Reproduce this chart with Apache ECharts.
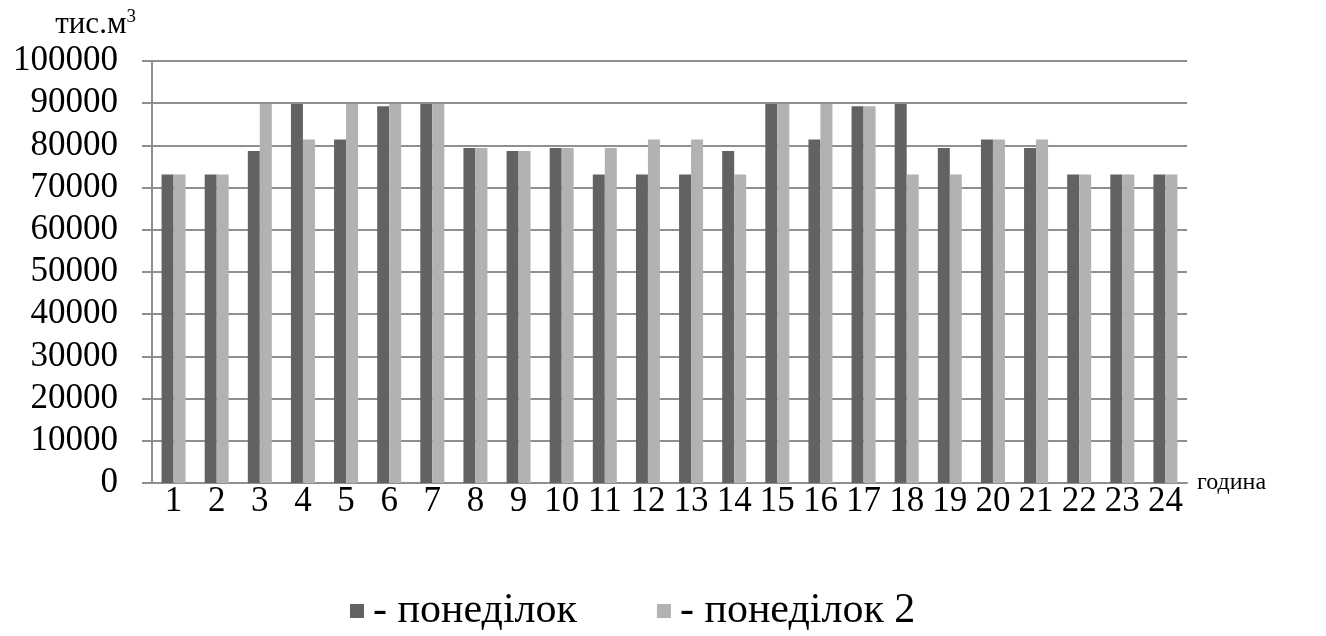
<!DOCTYPE html>
<html>
<head>
<meta charset="utf-8">
<script src="https://cdn.jsdelivr.net/npm/echarts@6/dist/echarts.min.js"></script>
<style>html,body{margin:0;padding:0;background:#fff}#c{width:1326px;height:636px}</style>
</head>
<body>
<div id="c"></div>
<script>
const hours = ['1','2','3','4','5','6','7','8','9','10','11','12','13','14','15','16','17','18','19','20','21','22','23','24'];
const monday = [73100,73100,78700,89800,81400,89300,89800,79400,78700,79400,73100,73100,73100,78700,89800,81400,89300,89800,79400,81400,79400,73100,73100,73100];
const monday2 = [73100,73100,89800,81400,89800,89800,89800,79400,78700,79400,79400,81400,81400,73100,89800,89800,89300,73100,73100,81400,81400,73100,73100,73100];
const seriesNames = ['понеділок','понеділок 2'];
const yTicks = [0,100000,10000];

const FONT = '"Liberation Serif","Times New Roman",serif';
const chart = echarts.init(document.getElementById('c'), null, {renderer:'canvas'});
chart.setOption({
  animation:false,
  backgroundColor:'#fff',
  grid:{left:152,right:139,top:61,bottom:153,containLabel:false},
  legend:{
    left:345, top:585, itemWidth:14, itemHeight:14, itemGap:80,
    icon:'rect',
    formatter: n => '- ' + n,
    textStyle:{fontFamily:FONT,fontSize:42,color:'#000',padding:[0,0,0,4]}
  },
  xAxis:{
    type:'category', data:hours,
    name:'година', nameLocation:'end', nameGap:10,
    nameTextStyle:{fontFamily:FONT,fontSize:24,color:'#000',verticalAlign:'middle',align:'left'},
    axisLine:{lineStyle:{color:'#8f8f8f',width:2}},
    axisTick:{show:false},
    axisLabel:{fontFamily:FONT,fontSize:35,color:'#000',margin:1,interval:0}
  },
  yAxis:{
    type:'value', min:yTicks[0], max:yTicks[1], interval:yTicks[2],
    name:'{a|тис.м}{b|3}', nameLocation:'end', nameGap:19,
    nameTextStyle:{align:'right',padding:[0,16,0,0],
      rich:{a:{fontFamily:FONT,fontSize:31,color:'#000'},b:{fontFamily:FONT,fontSize:19,color:'#000',verticalAlign:'top',padding:[0,0,15,0]}}},
    axisLine:{show:true,lineStyle:{color:'#8f8f8f',width:2}},
    axisTick:{show:true,length:10,lineStyle:{color:'#8f8f8f',width:2}},
    splitLine:{lineStyle:{color:'#8f8f8f',width:2}},
    axisLabel:{fontFamily:FONT,fontSize:35,color:'#000',margin:34,formatter:v=>String(v)}
  },
  series:[
    {name:seriesNames[0],type:'bar',data:monday,barWidth:12,barGap:'0%',itemStyle:{color:'#626262'}},
    {name:seriesNames[1],type:'bar',data:monday2,barWidth:12,barGap:'0%',itemStyle:{color:'#b2b2b2'}}
  ]
});
</script>
</body>
</html>
